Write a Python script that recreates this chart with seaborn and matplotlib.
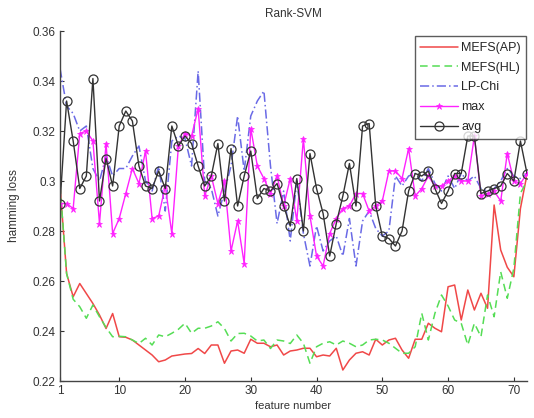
import numpy as np
import pandas as pd
import matplotlib
matplotlib.use("Agg")
import matplotlib.pyplot as plt
import seaborn as sns
from matplotlib.lines import Line2D

# Feature counts on the x axis
features = list(range(1, 73))

# Hamming loss per number of selected features
mefs_ap = [0.298, 0.263, 0.2537, 0.259, 0.255, 0.251, 0.2464, 0.241, 0.247, 0.2377,
           0.2375, 0.2364, 0.2344, 0.2324, 0.2304, 0.2277, 0.2284, 0.230, 0.2304, 0.2308,
           0.231, 0.233, 0.231, 0.2344, 0.2344, 0.2271, 0.232, 0.2324, 0.2311, 0.2367,
           0.2351, 0.2351, 0.2337, 0.2344, 0.2304, 0.232, 0.2324, 0.2331, 0.2331, 0.2297,
           0.2304, 0.230, 0.2331, 0.2244, 0.2284, 0.2311, 0.2317, 0.2304, 0.2367, 0.2344,
           0.2364, 0.2371, 0.2324, 0.2291, 0.2367, 0.2367, 0.2431, 0.2411, 0.2397, 0.2577,
           0.2584, 0.2444, 0.2564, 0.2484, 0.2551, 0.2491, 0.2904, 0.2724, 0.2655, 0.2617,
           0.2890, 0.3027]

mefs_hl = [0.298, 0.263, 0.2527, 0.2497, 0.2451, 0.2504, 0.2457, 0.2414, 0.2377, 0.2379,
           0.2377, 0.2364, 0.235, 0.2371, 0.2344, 0.2384, 0.2377, 0.2391, 0.2407, 0.2431,
           0.2391, 0.2411, 0.2411, 0.242, 0.2437, 0.241, 0.236, 0.239, 0.2391, 0.238,
           0.236, 0.2364, 0.233, 0.2364, 0.236, 0.235, 0.2384, 0.2351, 0.2271, 0.2337,
           0.2351, 0.2357, 0.2344, 0.236, 0.2351, 0.2337, 0.2344, 0.2364, 0.2367, 0.2364,
           0.2351, 0.2331, 0.2311, 0.2311, 0.2337, 0.2471, 0.2364, 0.2471, 0.2544, 0.250,
           0.2444, 0.2431, 0.2344, 0.2431, 0.2377, 0.2544, 0.2457, 0.2637, 0.2531, 0.2651,
           0.2951, 0.300]

lp_chi = [0.345, 0.330, 0.327, 0.320, 0.322, 0.305, 0.300, 0.310, 0.302, 0.305,
          0.305, 0.310, 0.314, 0.300, 0.296, 0.306, 0.288, 0.316, 0.318, 0.317,
          0.306, 0.344, 0.300, 0.297, 0.286, 0.296, 0.306, 0.326, 0.304, 0.326,
          0.332, 0.336, 0.306, 0.283, 0.296, 0.276, 0.300, 0.279, 0.266, 0.282,
          0.272, 0.276, 0.278, 0.270, 0.285, 0.266, 0.284, 0.288, 0.281, 0.278,
          0.280, 0.302, 0.298, 0.302, 0.303, 0.300, 0.305, 0.299, 0.296, 0.302,
          0.297, 0.303, 0.300, 0.302, 0.297, 0.296, 0.297, 0.300, 0.305, 0.302,
          0.301, 0.303]

max_vals = [0.291, 0.291, 0.289, 0.319, 0.320, 0.316, 0.283, 0.315, 0.279, 0.285,
            0.295, 0.305, 0.299, 0.312, 0.285, 0.286, 0.298, 0.279, 0.314, 0.319,
            0.318, 0.329, 0.294, 0.302, 0.291, 0.300, 0.272, 0.284, 0.267, 0.321,
            0.306, 0.301, 0.295, 0.302, 0.290, 0.301, 0.284, 0.317, 0.286, 0.270,
            0.266, 0.279, 0.285, 0.289, 0.290, 0.295, 0.295, 0.288, 0.290, 0.292,
            0.304, 0.304, 0.301, 0.313, 0.294, 0.297, 0.302, 0.298, 0.298, 0.300,
            0.302, 0.300, 0.300, 0.318, 0.294, 0.295, 0.296, 0.292, 0.311, 0.300,
            0.299, 0.303]

avg_vals = [0.291, 0.332, 0.316, 0.297, 0.302, 0.341, 0.292, 0.309, 0.298, 0.322,
            0.328, 0.324, 0.306, 0.298, 0.297, 0.304, 0.297, 0.322, 0.314, 0.318,
            0.315, 0.306, 0.298, 0.302, 0.315, 0.292, 0.313, 0.290, 0.302, 0.312,
            0.293, 0.297, 0.296, 0.299, 0.290, 0.282, 0.301, 0.280, 0.311, 0.297,
            0.287, 0.270, 0.283, 0.294, 0.307, 0.290, 0.322, 0.323, 0.290, 0.278,
            0.277, 0.274, 0.280, 0.296, 0.303, 0.302, 0.304, 0.297, 0.291, 0.296,
            0.303, 0.303, 0.318, 0.318, 0.295, 0.296, 0.297, 0.298, 0.303, 0.300,
            0.316, 0.303]

series_names = ["MEFS(AP)", "MEFS(HL)", "LP-Chi", "max", "avg"]
x_ticks = [1, 10, 20, 30, 40, 50, 60, 70]
y_ticks = [0.22, 0.24, 0.26, 0.28, 0.30, 0.32, 0.34, 0.36]
y_tick_labels = ["0.22", "0.24", "0.26", "0.28", "0.3", "0.32", "0.34", "0.36"]

sns.set_style("ticks")
plt.rcParams["font.family"] = ["Liberation Sans", "DejaVu Sans"]
plt.rcParams["xtick.direction"] = "in"
plt.rcParams["ytick.direction"] = "in"

fig = plt.figure(figsize=(5.34, 4.18), dpi=100)
ax = fig.add_axes([0.1124, 0.0885, 0.8745, 0.8373])

styles = [
    dict(color="#f04848", linestyle="-", linewidth=1.1),
    dict(color="#55dd55", linestyle=(0, (5, 3)), linewidth=1.1),
    dict(color="#6a6ae6", linestyle=(0, (6, 2, 1, 2)), linewidth=1.1),
    dict(color="#ff22ff", linestyle="-", linewidth=1.0, marker="*", markersize=5,
         markeredgecolor="#ff22ff", markerfacecolor="#ff22ff", markeredgewidth=0.5),
    dict(color="#333333", linestyle="-", linewidth=1.0, marker="o", markersize=6.5,
         markeredgecolor="#333333", markerfacecolor="none", markeredgewidth=0.9),
]
data = [mefs_ap, mefs_hl, lp_chi, max_vals, avg_vals]

handles = []
for name, vals, st in zip(series_names, data, styles):
    df = pd.DataFrame({"feature": features, "loss": vals})
    sns.lineplot(data=df, x="feature", y="loss", ax=ax, errorbar=None,
                 legend=False, **st)
    handles.append(Line2D([], [], label=name, **st))

ax.set_xlim(1, 72)
ax.set_ylim(0.22, 0.36)
ax.set_xticks(x_ticks)
ax.set_yticks(y_ticks)
ax.set_yticklabels(y_tick_labels)
ax.tick_params(labelsize=8.5, length=3, width=0.8, colors="#333333", pad=3)
for side in ["top", "right"]:
    ax.spines[side].set_visible(False)
for side in ["left", "bottom"]:
    ax.spines[side].set_color("#444444")
    ax.spines[side].set_linewidth(1.0)

ax.set_title("Rank-SVM", fontsize=8.5, color="#333333", pad=10)
ax.set_xlabel("feature number", fontsize=8, color="#333333", labelpad=3)
ax.set_ylabel("hamming loss", fontsize=8.5, color="#333333", labelpad=9)

leg = ax.legend(handles=handles, loc="upper right", bbox_to_anchor=(0.9985, 0.985),
                fontsize=9, frameon=True, fancybox=False, handlelength=3.0,
                borderpad=0.45, labelspacing=0.62, handletextpad=0.25,
                borderaxespad=0.0)
leg.get_frame().set_edgecolor("#333333")
leg.get_frame().set_linewidth(1.0)

fig.savefig("out.png", dpi=100)
